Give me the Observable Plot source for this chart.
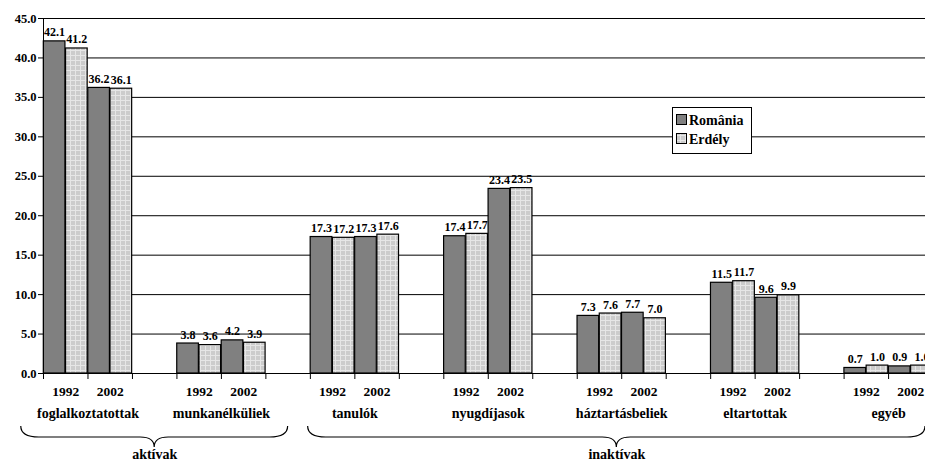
<!DOCTYPE html>
<html>
<head>
<meta charset="utf-8">
<script src="https://cdn.jsdelivr.net/npm/d3@7"></script>
<script src="https://cdn.jsdelivr.net/npm/@observablehq/plot@0.6"></script>
<style>
  html, body { margin: 0; padding: 0; background: #fff; overflow: hidden; }
  #chart { position: relative; width: 925px; height: 464px; }
</style>
</head>
<body>
<div id="chart"></div>
<script>
const categories = ["foglalkoztatottak", "munkanélküliek", "tanulók", "nyugdíjasok", "háztartásbeliek", "eltartottak", "egyéb"];
const years = ["1992", "2002"];
const seriesNames = ["România", "Erdély"];
const romania1992 = [42.1, 3.8, 17.3, 17.4, 7.3, 11.5, 0.7];
const erdely1992  = [41.2, 3.6, 17.2, 17.7, 7.6, 11.7, 1.0];
const romania2002 = [36.2, 4.2, 17.3, 23.4, 7.7, 9.6, 0.9];
const erdely2002  = [36.1, 3.9, 17.6, 23.5, 7.0, 9.9, 1.0];
const yTicks = [0, 5, 10, 15, 20, 25, 30, 35, 40, 45];
const groupLabels = ["aktívak", "inaktívak"];
const groupFirst = [0, 2];
const groupLast = [1, 6];

const FONT = "'Liberation Serif', 'Times New Roman', serif";
const xMax = 19.83; // visible portion of the category axis (in slots)
const valuesBy = [[romania1992, erdely1992], [romania2002, erdely2002]];

const rows = categories.flatMap((c, i) =>
  years.flatMap((yr, j) =>
    seriesNames.map((s, k) => ({
      category: c, year: yr, series: s,
      value: valuesBy[j][k][i],
      x1: 3 * i + j + 0.5 * k,
      x2: 3 * i + j + 0.5 * k + 0.5
    }))));

const yearRows = categories.flatMap((c, i) => years.map((yr, j) => ({year: yr, x: 3 * i + j + 0.5})));
const catRows = categories.map((c, i) => ({category: c, x: 3 * i + 1}));
const groups = groupLabels.map((g, gi) => {
  const start = 3 * groupFirst[gi] - (gi === 0 ? 0.5 : 0.05);
  const end = Math.min(3 * groupLast[gi] + 2.5, xMax);
  return {label: g, start, end, mid: (start + end) / 2};
});

function defsMark() {
  const g = d3.create("svg:g");
  const p = g.append("defs").append("pattern")
    .attr("id", "erdPat").attr("width", 5).attr("height", 5)
    .attr("patternUnits", "userSpaceOnUse");
  p.append("rect").attr("width", 5).attr("height", 5).attr("fill", "#cccccc");
  p.append("path").attr("d", "M0 0.5H5M0.5 0V5").attr("stroke", "#e6e6e6").attr("stroke-width", 1);
  return g.node();
}

function bracesMark(index, scales, values, dims) {
  const g = d3.create("svg:g").attr("fill", "none").attr("stroke", "black").attr("stroke-width", 1.2);
  const base = dims.height - dims.marginBottom;
  const yEnd = base + 53, yMid = base + 64, yTip = base + 74;
  for (const gr of groups) {
    const x1 = scales.x(gr.start), x2 = scales.x(gr.end), xm = scales.x(gr.mid);
    const d = `M${x1},${yEnd} Q${x1},${yMid} ${x1 + 18},${yMid} L${xm - 14},${yMid} Q${xm},${yMid} ${xm},${yTip} ` +
              `Q${xm},${yMid} ${xm + 14},${yMid} L${x2 - 18},${yMid} Q${x2},${yMid} ${x2},${yEnd}`;
    g.append("path").attr("d", d);
  }
  return g.node();
}

function legendMark() {
  const g = d3.create("svg:g").attr("font-family", FONT).attr("font-weight", "bold").attr("font-size", 14)
    .attr("text-anchor", "start");
  g.append("rect").attr("x", 672.5).attr("y", 107.5).attr("width", 79).attr("height", 46)
    .attr("fill", "white").attr("stroke", "black");
  const fills = ["#808080", "url(#erdPat)"];
  seriesNames.forEach((s, k) => {
    const cy = 120 + k * 19;
    g.append("rect").attr("x", 676.5).attr("y", cy - 5.5).attr("width", 10).attr("height", 10)
      .attr("fill", fills[k]).attr("stroke", "black");
    g.append("text").attr("x", 689).attr("y", cy).attr("dy", "0.35em").attr("fill", "black")
      .attr("text-anchor", "start").text(s);
  });
  return g.node();
}

const chart = Plot.plot({
  width: 925,
  height: 464,
  marginLeft: 43,
  marginRight: 0,
  marginTop: 18,
  marginBottom: 91,
  style: {fontFamily: FONT, fontWeight: "bold", fontSize: "12px", color: "black", background: "white"},
  x: {domain: [0, xMax]},
  y: {domain: [0, 45]},
  marks: [
    defsMark,
    Plot.ruleY(yTicks.filter(d => d > 0), {stroke: "black", strokeWidth: 1}),
    Plot.rectY(rows.filter(d => d.series === "România"), {x1: "x1", x2: "x2", y1: 0, y2: "value", fill: "#808080", stroke: "black", strokeWidth: 1.2, insetLeft: 0.3, insetRight: 0.3}),
    Plot.rectY(rows.filter(d => d.series === "Erdély"), {x1: "x1", x2: "x2", y1: 0, y2: "value", fill: "url(#erdPat)", stroke: "black", strokeWidth: 1.2, insetLeft: 0.3, insetRight: 0.3}),
    Plot.text(rows, {x: d => (d.x1 + d.x2) / 2, y: "value", text: d => d.value.toFixed(1), lineAnchor: "bottom", dy: -5, fontSize: 12, fontWeight: "bold", fill: "black"}),
    Plot.ruleX([0], {y1: 0, y2: 45, stroke: "black"}),
    Plot.ruleY([0], {stroke: "black"}),
    Plot.axisY({ticks: yTicks, tickFormat: d3.format(".1f"), tickSize: 5, tickPadding: 2, label: null, fontSize: 12.5, fontWeight: "bold"}),
    Plot.axisX({ticks: d3.range(0, 21), tickFormat: () => "", tickSize: 6, label: null}),
    Plot.text(yearRows, {x: "x", text: "year", frameAnchor: "bottom", dy: 22, fontSize: 13.5, fontWeight: "bold", fill: "black"}),
    Plot.text(catRows, {x: "x", text: "category", frameAnchor: "bottom", dy: 44, fontSize: 14, fontWeight: "bold", fill: "black"}),
    bracesMark,
    Plot.text(groups, {x: "mid", text: "label", frameAnchor: "bottom", dy: 85, fontSize: 14, fontWeight: "bold", fill: "black"}),
    legendMark
  ]
});

document.getElementById("chart").appendChild(chart);
</script>
</body>
</html>
